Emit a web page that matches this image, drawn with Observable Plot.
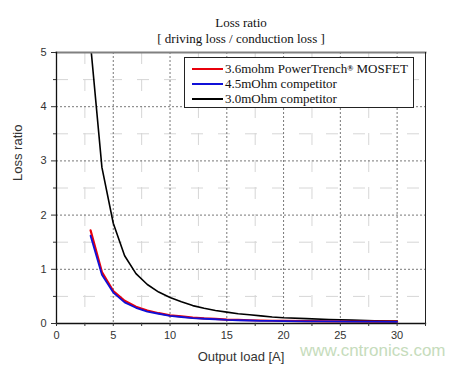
<!DOCTYPE html>
<html>
<head>
<meta charset="utf-8">
<script src="https://cdn.jsdelivr.net/npm/d3@7"></script>
<script src="https://cdn.jsdelivr.net/npm/@observablehq/plot@0.6"></script>
<style>
  html, body { margin: 0; padding: 0; background: #fff; }
  #wrap { position: relative; width: 464px; height: 368px; }
  #legend { position: absolute; left: 184px; top: 57px; width: 230px; height: 51px;
    border: 1px solid #222; background: #fff; box-sizing: border-box;
    font-family: "Liberation Serif", "Times New Roman", serif; font-size: 13px; color: #111; }
  .row { position: absolute; left: 7px; height: 15px; display: flex; align-items: center; white-space: nowrap; }
  .sw { width: 31px; height: 2px; margin-right: 2px; }
  sup { font-size: 8px; line-height: 0; vertical-align: 5px; font-weight: bold; }
</style>
</head>
<body>
<div id="wrap"></div>
<script>
const title = "Loss ratio";
const subtitle = "[ driving loss / conduction loss ]";
const xLabel = "Output load [A]";
const yLabel = "Loss ratio";
const watermark = "www.cntronics.com";
const seriesNames = ["3.6mohm PowerTrench", "4.5mOhm competitor", "3.0mOhm competitor"];
const seriesColors = ["#e8000b", "#1010d8", "#000000"];

const load = [3, 4, 5, 6, 7, 8, 9, 10, 11, 12, 13, 14, 15, 16, 17, 18, 19, 20, 22, 24, 26, 28, 30];
const ratioPowerTrench = [1.72, 0.95, 0.60, 0.42, 0.31, 0.24, 0.19, 0.15, 0.13, 0.11, 0.095, 0.085, 0.072, 0.066, 0.06, 0.055, 0.051, 0.048, 0.044, 0.04, 0.037, 0.035, 0.033];
const ratio45 = [1.62, 0.90, 0.57, 0.39, 0.29, 0.22, 0.18, 0.14, 0.12, 0.10, 0.088, 0.078, 0.066, 0.06, 0.055, 0.05, 0.047, 0.045, 0.041, 0.038, 0.035, 0.033, 0.031];
const ratio30 = [5.15, 2.88, 1.85, 1.25, 0.92, 0.72, 0.58, 0.48, 0.40, 0.33, 0.28, 0.24, 0.21, 0.18, 0.16, 0.14, 0.12, 0.105, 0.09, 0.075, 0.062, 0.052, 0.045];

const xMajor = [0, 5, 10, 15, 20, 25, 30];
const xMinor = [2.5, 7.5, 12.5, 17.5, 22.5, 27.5, 32.5];
const yMajor = [0, 1, 2, 3, 4, 5];
const yMinor = [0.5, 1.5, 2.5, 3.5, 4.5];

const mk = (ys) => load.map((x, i) => ({x, y: ys[i]}));
const dRed = mk(ratioPowerTrench), dBlue = mk(ratio45), dBlack = mk(ratio30);

const sans = "'Liberation Sans', Arial, sans-serif";
const serif = "'Liberation Serif', 'Times New Roman', serif";

const chart = Plot.plot({
  width: 464, height: 368,
  marginLeft: 56, marginRight: 39, marginTop: 52, marginBottom: 45,
  style: {fontFamily: sans, background: "#fff", overflow: "visible"},
  x: {domain: [0, 32.5]},
  y: {domain: [0, 5]},
  marks: [
    Plot.gridX(xMinor.slice(0, 6), {stroke: "#d6d6d6", strokeOpacity: 1, strokeDasharray: "12,15", strokeWidth: 1}),
    Plot.gridY(yMinor, {stroke: "#d6d6d6", strokeOpacity: 1, strokeDasharray: "12,15", strokeWidth: 1}),
    Plot.gridX(xMajor.slice(1), {stroke: "#555", strokeOpacity: 1, strokeDasharray: "2,2", strokeWidth: 0.8}),
    Plot.gridY(yMajor.slice(1, 5), {stroke: "#555", strokeOpacity: 1, strokeDasharray: "2,2", strokeWidth: 0.8}),
    Plot.line(dBlack, {x: "x", y: "y", stroke: seriesColors[2], strokeWidth: 1.6, clip: true}),
    Plot.line(dRed, {x: "x", y: "y", stroke: seriesColors[0], strokeWidth: 2.2, clip: true}),
    Plot.line(dBlue, {x: "x", y: "y", stroke: seriesColors[1], strokeWidth: 1.8, clip: true}),
    Plot.frame({anchor: "top", stroke: "#808080", strokeWidth: 2}),
    Plot.frame({anchor: "right", stroke: "#222", strokeWidth: 1}),
    Plot.frame({anchor: "left", stroke: "#111", strokeWidth: 1.3}),
    Plot.frame({anchor: "bottom", stroke: "#111", strokeWidth: 1.3}),
    Plot.axisX({ticks: xMajor, tickSize: 3, tickPadding: 5, fontSize: 11, color: "#333", label: null, tickFormat: d => String(d)}),
    Plot.axisX({ticks: xMinor, tickSize: 3, text: null, label: null, color: "#333"}),
    Plot.axisY({ticks: yMajor, tickSize: 5, tickPadding: 5, fontSize: 11, color: "#333", label: null, tickFormat: d => String(d)}),
    Plot.axisY({ticks: yMinor, tickSize: 3, text: null, label: null, color: "#333"}),
    Plot.text([title], {text: d => d, frameAnchor: "top", dy: -35, fontFamily: serif, fontSize: 13, fill: "#111"}),
    Plot.text([subtitle], {text: d => d, frameAnchor: "top", dy: -19, fontFamily: serif, fontSize: 13, fill: "#111"}),
    Plot.text([xLabel], {text: d => d, frameAnchor: "bottom", dy: 37, fontSize: 13, fill: "#333"}),
    Plot.text([yLabel], {text: d => d, frameAnchor: "left", dx: -39, dy: -7, rotate: -90, fontSize: 13, fill: "#333"}),
    Plot.text([watermark], {text: d => d, frameAnchor: "bottom-right", dx: 20, dy: 32, textAnchor: "end", fontSize: 17, fill: "#c6dcbc"})
  ]
});

const wrap = document.getElementById("wrap");
wrap.appendChild(chart);

const legend = document.createElement("div");
legend.id = "legend";
const tops = [3, 18, 33];
seriesNames.forEach((name, i) => {
  const row = document.createElement("div");
  row.className = "row";
  row.style.top = tops[i] + "px";
  const sw = document.createElement("span");
  sw.className = "sw";
  sw.style.background = seriesColors[i];
  row.appendChild(sw);
  const t = document.createElement("span");
  t.textContent = name;
  row.appendChild(t);
  if (i === 0) {
    const s = document.createElement("sup");
    s.textContent = "®";
    row.appendChild(s);
    const t2 = document.createElement("span");
    t2.textContent = "\u00a0MOSFET";
    row.appendChild(t2);
  }
  legend.appendChild(row);
});
wrap.appendChild(legend);
</script>
</body>
</html>
